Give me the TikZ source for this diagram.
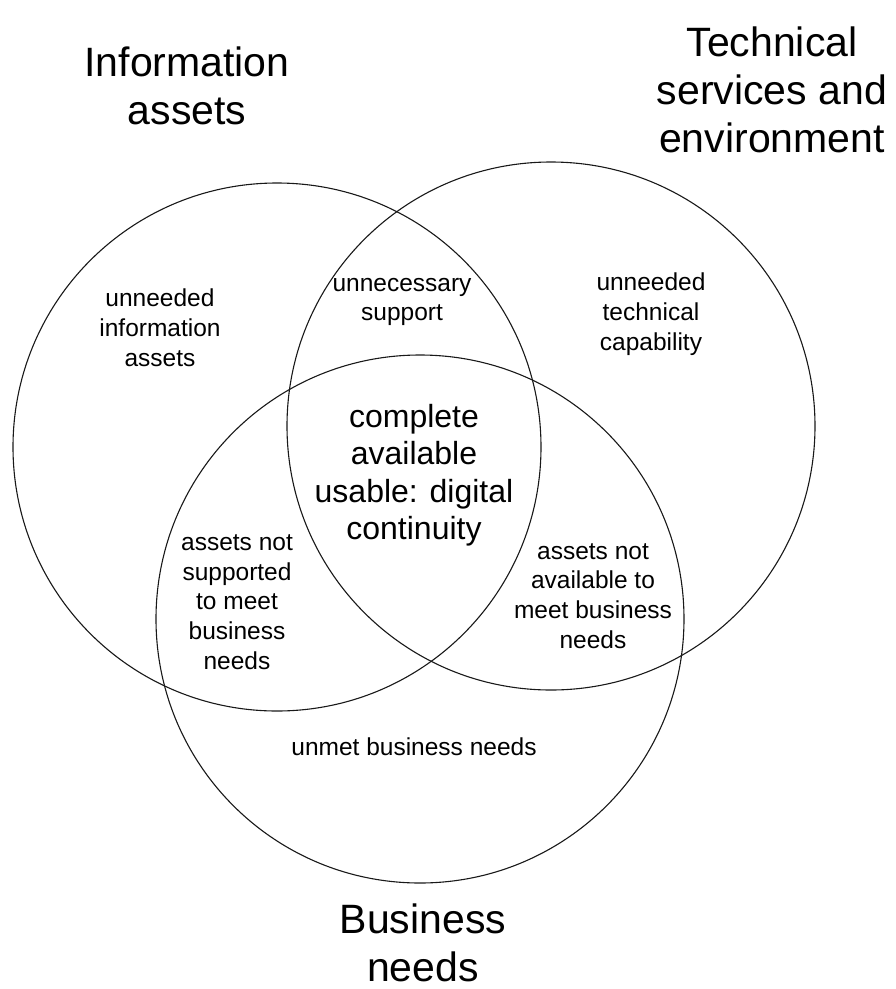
\documentclass[tikz,border=0pt]{standalone}
\usepackage{fontspec}
\setmainfont{Liberation Sans}
\begin{document}
\begin{tikzpicture}[x=1pt,y=-1pt,
  ring/.style={draw=black!90,line width=1.1pt},
  title/.style={align=center,inner sep=0pt,font=\fontsize{41}{48}\selectfont},
  region/.style={align=center,inner sep=0pt,font=\fontsize{24.5}{29.8}\selectfont},
  core/.style={align=center,inner sep=0pt,font=\fontsize{32}{37.5}\selectfont}]
\useasboundingbox (0,0) rectangle (896,989);
\fill[white] (0,0) rectangle (896,989);
% circles
\draw[ring] (277,447) circle[radius=264pt];
\draw[ring] (551,426) circle[radius=264pt];
\draw[ring] (420,619) circle[radius=264pt];
% titles
\node[title] (tinfo) at (187,86) {Information\\assets};
\node[title] (ttech) at (772,90) {Technical\\services and\\environment};
\node[title] (tbus) at (423,943) {Business\\needs};
% regions
\node[region] (r1) at (160,328) {unneeded\\information\\assets};
\node[region] (r2) at (402,302) {unnecessary\\support};
\node[region] (r3) at (651,314) {unneeded\\technical\\capability};
\node[core] (r4) at (414,475) {complete\\available\\usable: digital\\continuity};
\node[region] (r5) at (237,602) {assets not\\supported\\to meet\\business\\needs};
\node[region] (r6) at (593,596) {assets not\\available to\\meet business\\needs};
\node[region] (r7) at (414,747) {unmet business needs};
\end{tikzpicture}
\end{document}
